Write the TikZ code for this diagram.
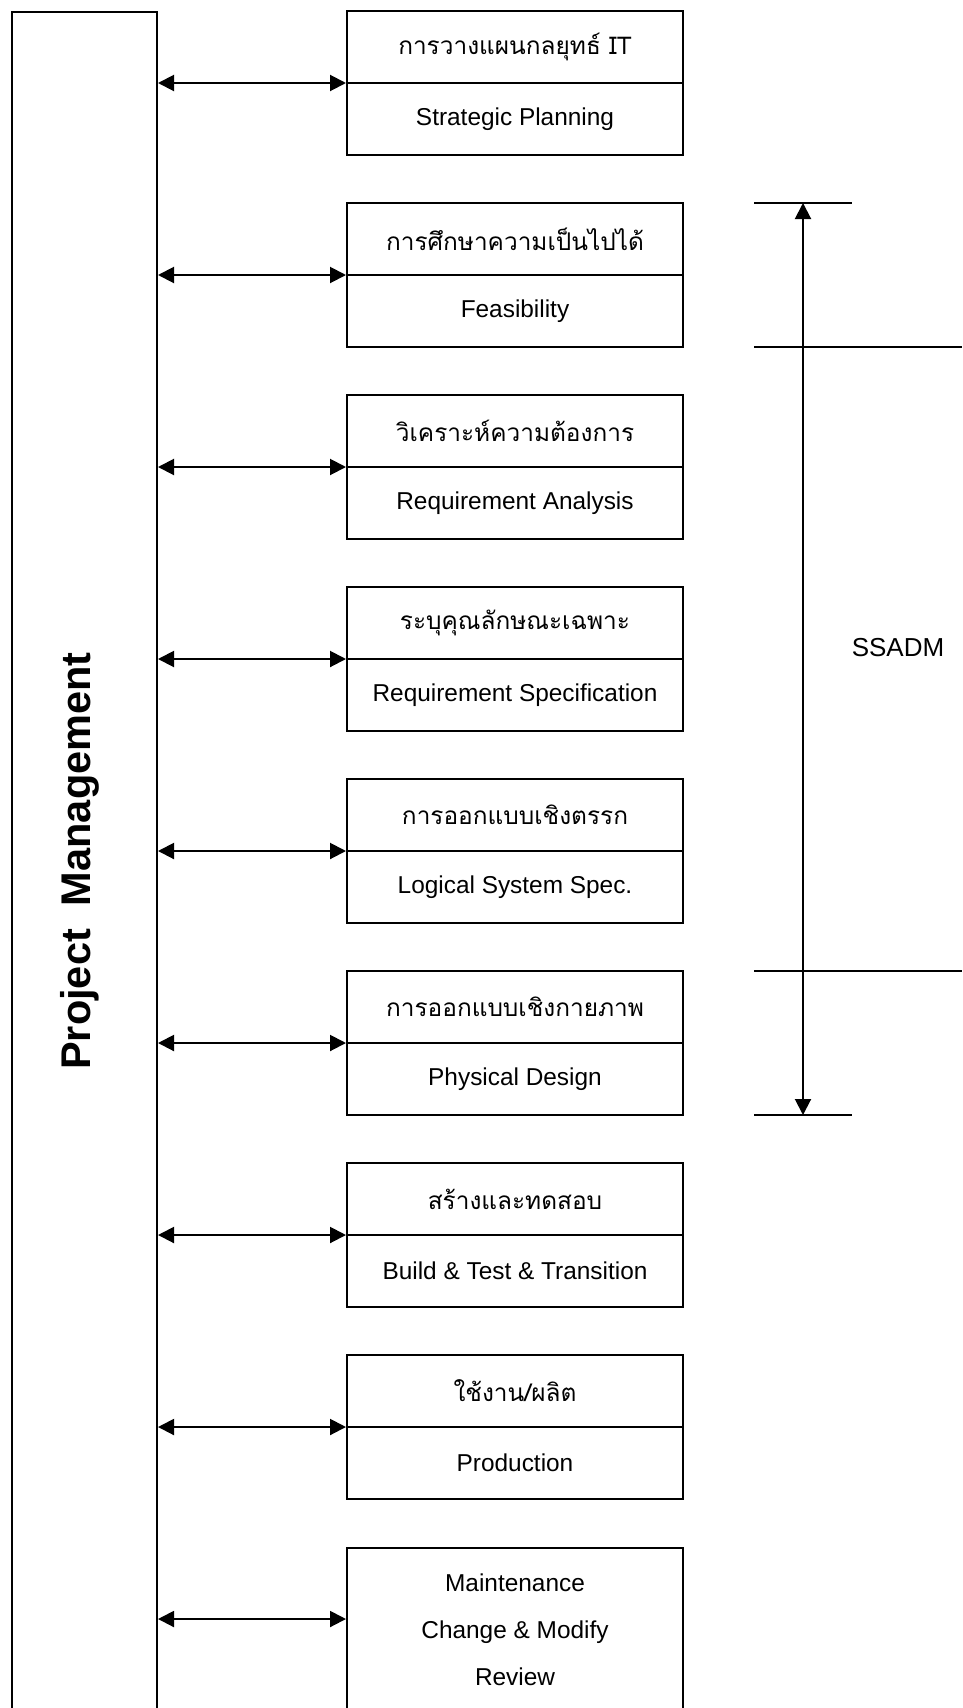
\documentclass[tikz,border=0pt]{standalone}
\usepackage{fontspec}
\setmainfont{Liberation Sans}
\newfontfamily\thaifont[Script=Thai]{Loma}
\usetikzlibrary{arrows.meta,calc}

\begin{document}
\begin{tikzpicture}[x=1pt,y=-1pt,
  stage/.style={draw,line width=2pt,minimum width=336pt,minimum height=144pt,inner sep=0pt},
  pmbox/.style={draw,line width=2pt,minimum width=145pt,minimum height=1760pt,inner sep=0pt,anchor=north west},
  thtext/.style={inner sep=0pt,font=\thaifont\fontsize{24.4}{29}\selectfont},
  entext/.style={inner sep=0pt,font=\fontsize{24.4}{29}\selectfont},
  link/.style={line width=2pt,{Triangle[length=16pt,width=16pt]}-{Triangle[length=16pt,width=16pt]}},
  rule/.style={line width=2pt}]
\useasboundingbox (0,0) rectangle (962,1708);
\fill[white] (0,0) rectangle (962,1708);

% project management column on the left
\node[pmbox] (pm) at (11,11) {};
\node[rotate=90,anchor=base,inner sep=0pt,font=\bfseries\fontsize{41.5}{50}\selectfont] (pmlabel) at (90,861) {Project\ \ Management};

% two-part stage boxes: Thai name above, English name below
\foreach \i/\th/\en [evaluate=\i as \cy using 83+192*(\i-1)] in {
  1/{{\thaifont การวางแผนกลยุทธ์} IT}/{Strategic Planning},
  2/{การศึกษาความเป็นไปได้}/{Feasibility},
  3/{วิเคราะห์ความต้องการ}/{Requirement Analysis},
  4/{ระบุคุณลักษณะเฉพาะ}/{Requirement Specification},
  5/{การออกแบบเชิงตรรก}/{Logical System Spec.},
  6/{การออกแบบเชิงกายภาพ}/{Physical Design},
  7/{สร้างและทดสอบ}/{Build \& Test \& Transition},
  8/{ใช้งาน/ผลิต}/{Production}}{
  \node[stage] (b\i) at (515,\cy) {};
  \draw[rule] (b\i.west) -- (b\i.east);
  \node[thtext] (t\i) at ($(b\i.center)+(0,-36)$) {\th};
  \node[entext] (e\i) at ($(b\i.center)+(0,36)$) {\en};
  \draw[link] (b\i.west -| pm.east) -- (b\i.west);
}

% last stage runs off the bottom edge
\node[stage,minimum height=220pt,anchor=north] (b9) at (515,1547) {};
\node[entext,align=center,font=\fontsize{24.4}{47}\selectfont] (e9) at (515,1630)
  {Maintenance\\Change \& Modify\\Review};
\coordinate (a9) at ($(b9.north west)+(0,72)$);
\draw[link] (a9 -| pm.east) -- (a9);

% SSADM span marker
\coordinate (ssTop) at (803,203);
\coordinate (ssBot) at (803,1115);
\draw[rule] (754,203) -- (852,203);
\draw[rule] (754,347) -- (962,347);
\draw[rule] (754,971) -- (962,971);
\draw[rule] (754,1115) -- (852,1115);
\draw[link] (ssTop) -- (ssBot);
\node[inner sep=0pt,font=\fontsize{26}{31}\selectfont] (ssadm) at (898,648) {SSADM};
\end{tikzpicture}
\end{document}
